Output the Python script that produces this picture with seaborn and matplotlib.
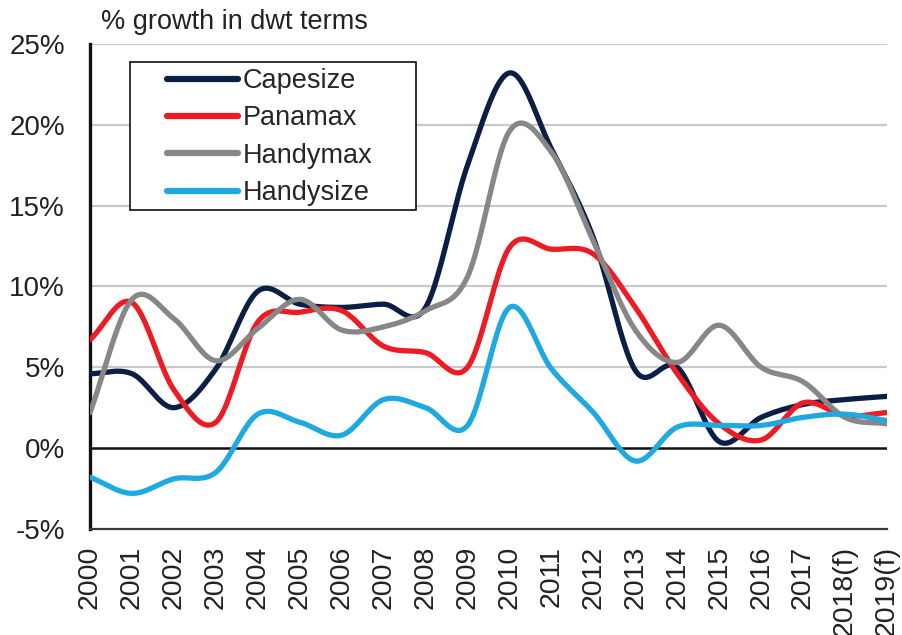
import numpy as np
import pandas as pd
import matplotlib
matplotlib.use("Agg")
import matplotlib.pyplot as plt
from matplotlib.patches import Rectangle
from matplotlib.ticker import FuncFormatter
import seaborn as sns

years = ["2000", "2001", "2002", "2003", "2004", "2005", "2006", "2007", "2008", "2009",
         "2010", "2011", "2012", "2013", "2014", "2015", "2016", "2017", "2018(f)", "2019(f)"]

capesize = [4.6, 4.6, 2.5, 4.9, 9.7, 8.9, 8.7, 8.9, 8.7, 17.5,
            23.2, 18.5, 13.0, 4.8, 5.0, 0.4, 1.9, 2.7, 3.0, 3.2]
panamax = [6.7, 9.0, 3.6, 1.6, 7.8, 8.4, 8.5, 6.3, 5.9, 5.0,
           12.4, 12.3, 12.0, 8.7, 4.6, 1.5, 0.5, 2.8, 2.0, 2.2]
handymax = [2.2, 9.2, 8.0, 5.4, 7.4, 9.2, 7.3, 7.5, 8.5, 10.6,
            19.6, 18.3, 12.8, 7.3, 5.3, 7.6, 5.0, 4.1, 1.9, 1.5]
handysize = [-1.8, -2.8, -1.9, -1.5, 2.1, 1.6, 0.8, 3.0, 2.5, 1.4,
             8.7, 4.9, 2.2, -0.8, 1.3, 1.4, 1.4, 1.9, 2.1, 1.7]

series = {"Capesize": capesize, "Panamax": panamax,
          "Handymax": handymax, "Handysize": handysize}
colors = ["#0b1e45", "#ed1c24", "#878787", "#1fa9e1"]


def smooth(y, steps=24):
    # catmull-rom through the points, like the smoothed line in the original
    y = np.asarray(y, dtype=float)
    n = len(y)
    m = np.zeros(n)
    m[1:-1] = (y[2:] - y[:-2]) / 2
    m[0] = y[1] - y[0]
    m[-1] = y[-1] - y[-2]
    xs, ys = [], []
    for i in range(n - 1):
        t = np.linspace(0, 1, steps, endpoint=(i == n - 2))
        h00 = 2 * t**3 - 3 * t**2 + 1
        h10 = t**3 - 2 * t**2 + t
        h01 = -2 * t**3 + 3 * t**2
        h11 = t**3 - t**2
        xs.append(i + t)
        ys.append(h00 * y[i] + h10 * m[i] + h01 * y[i + 1] + h11 * m[i + 1])
    return np.concatenate(xs), np.concatenate(ys)


rows = []
for name, vals in series.items():
    xs, ys = smooth(vals)
    rows.append(pd.DataFrame({"x": xs, "y": ys, "type": name}))
df = pd.concat(rows, ignore_index=True)

sns.set_style("white")
plt.rcParams["font.family"] = ["Liberation Sans", "DejaVu Sans"]

fig = plt.figure(figsize=(9.03, 6.35), dpi=100)
ax = fig.add_axes([0.0997, 0.167, 0.8826, 0.764])

for v in [5, 10, 15, 20, 25]:
    ax.axhline(v, color="#c9c9cc", lw=1.6, zorder=0)
ax.axhline(0, color="#111111", lw=1.8, zorder=1)

sns.lineplot(data=df, x="x", y="y", hue="type", palette=colors,
             linewidth=3.8, ax=ax, sort=False, estimator=None, zorder=3)

ax.set_xlim(0, 19)
ax.set_ylim(-5, 25)
ax.set_xticks(range(len(years)))
ax.set_xticklabels(years, rotation=90, fontsize=20.5, color="#222222")
ax.set_yticks([-5, 0, 5, 10, 15, 20, 25])
ax.yaxis.set_major_formatter(FuncFormatter(lambda v, p: f"{v:.0f}%"))
ax.tick_params(axis="y", labelsize=20, labelcolor="#222222", length=0, pad=18)
ax.tick_params(axis="x", length=0, pad=12)
ax.set_xlabel("")
ax.set_ylabel("")

for s in ["top", "right"]:
    ax.spines[s].set_visible(False)
ax.spines["left"].set_color("#111111")
ax.spines["left"].set_linewidth(2.4)
ax.spines["bottom"].set_color("#3a3a3a")
ax.spines["bottom"].set_linewidth(1.6)

# legend box is wider than the entries, so draw the frame separately
leg = ax.legend(loc="upper left", bbox_to_anchor=(0.096, 0.95), borderaxespad=0,
                fontsize=19.5, frameon=False, handlelength=2.65,
                handletextpad=0.15, labelspacing=0.42, borderpad=0)
for line in leg.get_lines():
    line.set_linewidth(4.5)
ax.add_patch(Rectangle((0.0502, 0.658), 0.359, 0.305, transform=ax.transAxes,
                       facecolor="white", edgecolor="#111111", lw=1.2, zorder=4))
leg.set_zorder(5)

fig.text(0.112, 0.966, "% growth in dwt terms", fontsize=19.5, color="#222222",
         ha="left", va="center")

fig.savefig("out.png", dpi=100)
